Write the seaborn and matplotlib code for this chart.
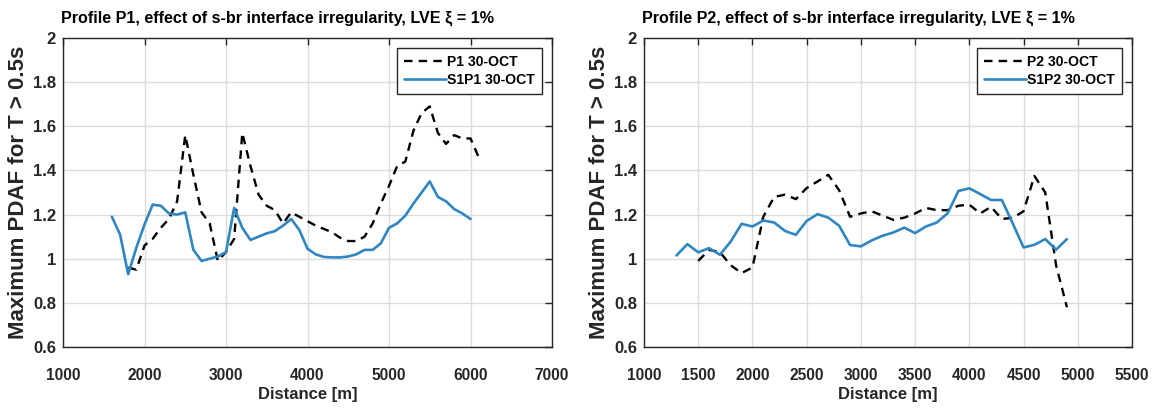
import matplotlib
matplotlib.use("Agg")
import matplotlib.pyplot as plt
import seaborn as sns

# ---------------- data ----------------
p1_ref_dist = [1800, 1900, 2000, 2100, 2200, 2300, 2400, 2500, 2600, 2700, 2800, 2900,
               3000, 3100, 3200, 3300, 3400, 3500, 3600, 3700, 3800, 3900, 4000, 4100,
               4200, 4300, 4400, 4500, 4600, 4700, 4800, 4900, 5000, 5100, 5200, 5300,
               5400, 5500, 5600, 5700, 5800, 5900, 6000, 6100]
p1_ref_pdaf = [0.96, 0.95, 1.06, 1.09, 1.14, 1.18, 1.26, 1.56, 1.38, 1.21, 1.16, 0.99,
               1.03, 1.09, 1.57, 1.42, 1.29, 1.24, 1.22, 1.16, 1.21, 1.19, 1.17, 1.15,
               1.135, 1.12, 1.095, 1.08, 1.08, 1.10, 1.16, 1.25, 1.33, 1.42, 1.44, 1.58,
               1.66, 1.69, 1.57, 1.52, 1.56, 1.545, 1.545, 1.46]

s1p1_dist = [1600, 1700, 1800, 1900, 2000, 2100, 2200, 2300, 2400, 2500, 2600, 2700,
             2800, 2900, 3000, 3100, 3200, 3300, 3400, 3500, 3600, 3700, 3800, 3900,
             4000, 4100, 4200, 4300, 4400, 4500, 4600, 4700, 4800, 4900, 5000, 5100,
             5200, 5300, 5400, 5500, 5600, 5700, 5800, 5900, 6000]
s1p1_pdaf = [1.19, 1.11, 0.93, 1.05, 1.155, 1.245, 1.24, 1.205, 1.20, 1.21, 1.04, 0.99,
             1.00, 1.01, 1.03, 1.23, 1.14, 1.085, 1.10, 1.115, 1.125, 1.15, 1.18, 1.13,
             1.045, 1.02, 1.008, 1.006, 1.006, 1.01, 1.02, 1.04, 1.04, 1.07, 1.14, 1.16,
             1.195, 1.25, 1.30, 1.35, 1.28, 1.26, 1.225, 1.205, 1.18]

p2_ref_dist = [1500, 1600, 1700, 1800, 1900, 2000, 2100, 2200, 2300, 2400, 2500, 2600,
               2700, 2800, 2900, 3000, 3100, 3200, 3300, 3400, 3500, 3600, 3700, 3800,
               3900, 4000, 4100, 4200, 4300, 4400, 4500, 4600, 4700, 4800, 4900]
p2_ref_pdaf = [0.99, 1.04, 1.03, 0.97, 0.935, 0.96, 1.19, 1.28, 1.29, 1.27, 1.32, 1.35,
               1.38, 1.31, 1.19, 1.205, 1.215, 1.195, 1.176, 1.186, 1.205, 1.23, 1.22, 1.22,
               1.24, 1.245, 1.205, 1.235, 1.18, 1.185, 1.215, 1.375, 1.30, 0.97, 0.78]

s1p2_dist = [1300, 1400, 1500, 1600, 1700, 1800, 1900, 2000, 2100, 2200, 2300, 2400,
             2500, 2600, 2700, 2800, 2900, 3000, 3100, 3200, 3300, 3400, 3500, 3600,
             3700, 3800, 3900, 4000, 4100, 4200, 4300, 4400, 4500, 4600, 4700, 4800, 4900]
s1p2_pdaf = [1.015, 1.066, 1.029, 1.048, 1.018, 1.078, 1.158, 1.146, 1.173, 1.164, 1.126, 1.108,
             1.171, 1.202, 1.186, 1.149, 1.062, 1.056, 1.083, 1.104, 1.119, 1.141, 1.116, 1.146,
             1.164, 1.206, 1.307, 1.319, 1.293, 1.266, 1.266, 1.16, 1.051, 1.063, 1.089, 1.041, 1.089]

titles = ["Profile P1, effect of s-br interface irregularity, LVE \u03be = 1%",
          "Profile P2, effect of s-br interface irregularity, LVE \u03be = 1%"]
legend_labels = [["P1 30-OCT", "S1P1 30-OCT"], ["P2 30-OCT", "S1P2 30-OCT"]]
x_ticks = [[1000, 2000, 3000, 4000, 5000, 6000, 7000],
           [1000, 1500, 2000, 2500, 3000, 3500, 4000, 4500, 5000, 5500]]
y_ticks = [0.6, 0.8, 1.0, 1.2, 1.4, 1.6, 1.8, 2.0]
y_tick_labels = ["0.6", "0.8", "1", "1.2", "1.4", "1.6", "1.8", "2"]
x_label = "Distance [m]"
y_label = "Maximum PDAF for T > 0.5s"

# ---------------- style ----------------
sns.set_theme(style="white")
plt.rcParams["font.family"] = ["Liberation Sans", "DejaVu Sans"]

BLUE = "#2f86c0"
DARK = "#262626"
GRID = "#dcdcdc"

fig = plt.figure(figsize=(11.56, 4.12), dpi=100)
ax1 = fig.add_axes([63 / 1156, 65 / 412, 489 / 1156, 309 / 412])
ax2 = fig.add_axes([644 / 1156, 65 / 412, 488 / 1156, 309 / 412])

series = [
    (ax1, p1_ref_dist, p1_ref_pdaf, s1p1_dist, s1p1_pdaf, (1000, 7000)),
    (ax2, p2_ref_dist, p2_ref_pdaf, s1p2_dist, s1p2_pdaf, (1000, 5500)),
]

for i, (ax, xd, yd, xs, ys, xlim) in enumerate(series):
    sns.lineplot(x=xd, y=yd, ax=ax, color="black", linewidth=1.7,
                 label=legend_labels[i][0], sort=False)
    sns.lineplot(x=xs, y=ys, ax=ax, color=BLUE, linewidth=1.9,
                 label=legend_labels[i][1], sort=False)
    ax.lines[0].set_linestyle((0, (3.6, 2.6)))
    ax.set_xlim(*xlim)
    ax.set_ylim(0.6, 2.0)
    ax.set_xticks(x_ticks[i])
    ax.set_yticks(y_ticks)
    ax.set_yticklabels(y_tick_labels)
    ax.grid(True, color=GRID, linewidth=1.0)
    ax.set_axisbelow(True)
    for sp in ax.spines.values():
        sp.set_color(DARK)
        sp.set_linewidth(1.0)
        sp.set_visible(True)
    ax.tick_params(axis="both", direction="in", length=5, width=1.0, color=DARK,
                   top=True, right=True, labelcolor=DARK)
    ax.tick_params(axis="x", pad=15, labelsize=11.2)
    ax.tick_params(axis="y", pad=5, labelsize=12)
    for lab in ax.get_xticklabels() + ax.get_yticklabels():
        lab.set_fontweight("bold")
    ax.set_xlabel(x_label, fontsize=12, fontweight="bold", color=DARK, labelpad=3)
    ax.set_ylabel(y_label, fontsize=16, fontweight="bold", color=DARK, labelpad=3)
    ax.set_title(titles[i], loc="left", fontsize=11.6, fontweight="bold",
                 color="black", pad=11, x=-0.005)
    leg = ax.legend(loc="upper right", fontsize=10.1, frameon=True, fancybox=False,
                    framealpha=1, edgecolor=DARK, handlelength=3.0, handletextpad=0.1,
                    borderpad=0.5, labelspacing=0.3, borderaxespad=0.7)
    leg.get_frame().set_linewidth(1.0)
    for t in leg.get_texts():
        t.set_fontweight("bold")
        t.set_color("black")

fig.savefig("out.png", dpi=100)
